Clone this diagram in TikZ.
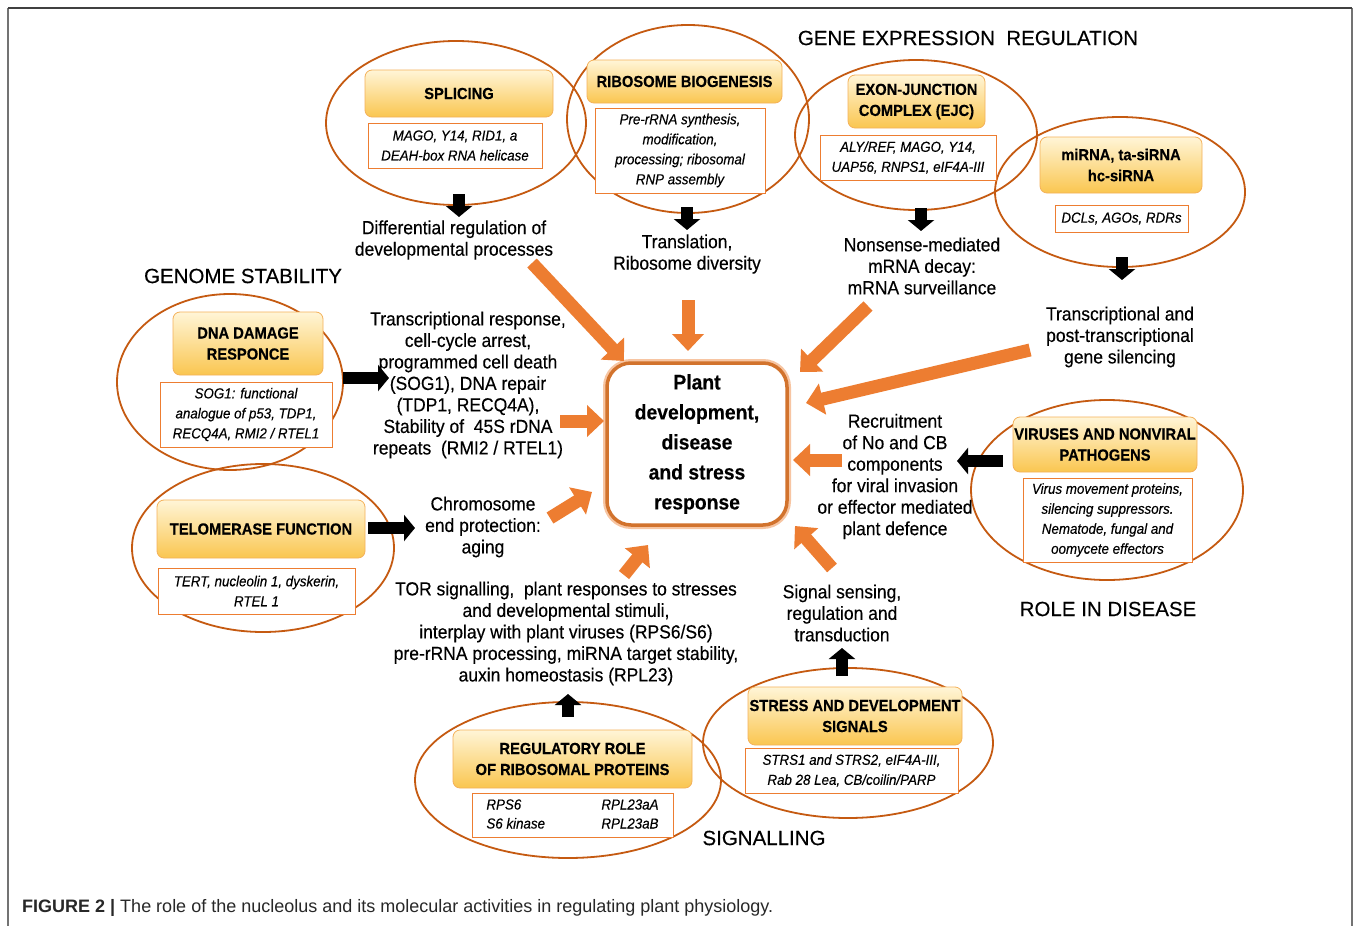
\documentclass[tikz,border=0pt]{standalone}
\usepackage{fontspec}
\setmainfont{Liberation Sans}
\newfontfamily\cond[FakeStretch=0.92,FakeBold=0.3]{Liberation Sans}
\newfontfamily\hdrfont[FakeBold=0.3]{Liberation Sans}
\usetikzlibrary{shapes.geometric,arrows.meta}

\definecolor{ellc}{RGB}{197,90,17}
\definecolor{arrc}{RGB}{237,125,49}
\definecolor{boxedge}{RGB}{237,125,49}
\definecolor{tboxtop}{RGB}{255,245,215}
\definecolor{tboxbot}{RGB}{250,198,80}
\definecolor{tboxedge}{RGB}{244,177,90}
\definecolor{cboxc}{RGB}{210,115,45}
\definecolor{capc}{RGB}{40,40,40}

\begin{document}
\begin{tikzpicture}[x=1pt,y=-1pt,
 ell/.style={ellipse, draw=ellc, line width=1.8pt, inner sep=0pt},
 tbox/.style={rounded corners=7pt, draw=tboxedge, line width=0.8pt, top color=tboxtop, bottom color=tboxbot, inner sep=0pt, align=center, font=\cond\bfseries\fontsize{16}{21}\selectfont},
 dbox/.style={draw=boxedge, line width=0.8pt, fill=white, inner sep=0pt, align=center, font=\cond\itshape\fontsize{14.5}{20}\selectfont},
 txt/.style={align=center, inner sep=0pt, font=\cond\fontsize{19}{21.5}\selectfont},
 hdr/.style={inner sep=0pt, font=\hdrfont\fontsize{20.5}{24}\selectfont},
 barrow/.style={line width=12pt, -{Triangle[length=11pt,width=26pt]}, black},
 oarrow/.style={line width=13pt, -{Triangle[length=17pt,width=31pt]}, arrc},
]
\useasboundingbox (0,0) rectangle (1358,926);
\fill[white] (0,0) rectangle (1358,926);

% frame
\draw[line width=2pt, gray!90!black] (8,926) -- (8,8);
\draw[line width=2pt, gray!90!black] (1352,926) -- (1352,8);
\draw[line width=2pt, black!75] (8,8) -- (1352,8);

% ellipses
\node[ell, minimum width=260pt, minimum height=164pt] (eS) at (456,123) {};
\node[ell, minimum width=242pt, minimum height=188pt] (eR) at (688,119) {};
\node[ell, minimum width=242pt, minimum height=150pt] (eE) at (916,135) {};
\node[ell, minimum width=250pt, minimum height=150pt] (eM) at (1120,192) {};
\node[ell, minimum width=226pt, minimum height=176pt] (eD) at (230,382) {};
\node[ell, minimum width=262pt, minimum height=168pt] (eT) at (263,548) {};
\node[ell, minimum width=272pt, minimum height=180pt] (eV) at (1107,490) {};
\node[ell, minimum width=306pt, minimum height=156pt] (eG) at (568,780) {};
\node[ell, minimum width=290pt, minimum height=150pt] (eX) at (848,743) {};

% title boxes
\node[tbox, minimum width=188pt, minimum height=47pt] (tS) at (459,93.5) {SPLICING};
\node[tbox, minimum width=195pt, minimum height=43pt] (tR) at (684.5,81.5) {RIBOSOME BIOGENESIS};
\node[tbox, minimum width=137pt, minimum height=53pt] (tE) at (916.5,101.5) {EXON-JUNCTION\\COMPLEX (EJC)};
\node[tbox, minimum width=162pt, minimum height=56pt] (tM) at (1121,165) {miRNA, ta-siRNA\\hc-siRNA};
\node[tbox, minimum width=150pt, minimum height=63pt] (tD) at (248,343.5) {DNA DAMAGE\\RESPONCE};
\node[tbox, minimum width=208pt, minimum height=58pt] (tT) at (261,529) {TELOMERASE FUNCTION};
\node[tbox, minimum width=184pt, minimum height=55pt] (tV) at (1105,444.5) {VIRUSES AND NONVIRAL\\PATHOGENS};
\node[tbox, minimum width=239pt, minimum height=58pt] (tG) at (572.5,759) {REGULATORY ROLE\\OF RIBOSOMAL PROTEINS};
\node[tbox, minimum width=214pt, minimum height=58pt] (tX) at (855,716) {STRESS AND DEVELOPMENT\\SIGNALS};

% detail boxes
\node[dbox, minimum width=174pt, minimum height=45pt] (dS) at (455,145.5) {MAGO, Y14, RID1, a\\DEAH-box RNA helicase};
\node[dbox, minimum width=170pt, minimum height=85pt] (dR) at (680,150.5) {Pre-rRNA synthesis,\\modification,\\processing; ribosomal\\RNP assembly};
\node[dbox, minimum width=176pt, minimum height=45pt] (dE) at (908,157.5) {ALY/REF, MAGO, Y14,\\UAP56, RNPS1, eIF4A-III};
\node[dbox, minimum width=133pt, minimum height=27pt] (dM) at (1121.5,218.5) {DCLs, AGOs, RDRs};
\node[dbox, minimum width=172pt, minimum height=65pt] (dD) at (246,414.5) {SOG1: functional\\analogue of p53, TDP1,\\RECQ4A, RMI2 / RTEL1};
\node[dbox, minimum width=197pt, minimum height=46pt] (dT) at (256.5,591) {TERT, nucleolin 1, dyskerin,\\RTEL 1};
\node[dbox, minimum width=169pt, minimum height=84pt] (dV) at (1107.5,520) {Virus movement proteins,\\silencing suppressors.\\Nematode, fungal and\\oomycete effectors};
\node[dbox, minimum width=201pt, minimum height=44pt] (dG) at (572.5,815) {\begin{tabular}{@{}p{115pt}@{}l@{}}RPS6 & RPL23aA\\[-1pt] S6 kinase & RPL23aB\end{tabular}};
\node[dbox, minimum width=213pt, minimum height=45pt] (dX) at (851.5,770.5) {STRS1 and STRS2, eIF4A-III,\\Rab 28 Lea, CB/coilin/PARP};

% centre box
\node[draw=cboxc, line width=3.5pt, rounded corners=24pt, fill=white,
      preaction={draw=arrc!45, line width=8pt, rounded corners=24pt},
      minimum width=180pt, minimum height=162pt, inner sep=0pt, align=center,
      font=\cond\bfseries\fontsize{21}{30}\selectfont] (C) at (697,444)
  {Plant\\development,\\disease\\and stress\\response};

% outcome texts
\node[txt] (oS) at (454,240) {Differential regulation of\\developmental processes};
\node[txt] (oR) at (687,254) {Translation,\\Ribosome diversity};
\node[txt] (oE) at (922,266) {Nonsense-mediated\\mRNA decay:\\mRNA surveillance};
\node[txt] (oM) at (1120,337) {Transcriptional and\\post-transcriptional\\gene silencing};
\node[txt] (oD) at (468,385) {Transcriptional response,\\cell-cycle arrest,\\programmed cell death\\(SOG1), DNA repair\\(TDP1, RECQ4A),\\Stability of~~45S rDNA\\repeats~~(RMI2 / RTEL1)};
\node[txt] (oT) at (483,527) {Chromosome\\end protection:\\aging};
\node[txt] (oV) at (895,476.5) {Recruitment\\of No and CB\\components\\for viral invasion\\or effector mediated\\plant defence};
\node[txt] (oG) at (566,633.5) {TOR signalling,~~plant responses to stresses\\and developmental stimuli,\\interplay with plant viruses (RPS6/S6)\\pre-rRNA processing, miRNA target stability,\\auxin homeostasis (RPL23)};
\node[txt] (oX) at (842,613) {Signal sensing,\\regulation and\\transduction};

% headers
\node[hdr] (hG) at (968,38) {GENE EXPRESSION~~REGULATION};
\node[hdr] (hS) at (243,276) {GENOME STABILITY};
\node[hdr] (hD) at (1108,609) {ROLE IN DISEASE};
\node[hdr] (hL) at (764,838) {SIGNALLING};

% black arrows
\coordinate (bS1) at (459,194); \coordinate (bS2) at (459,217);
\coordinate (bR1) at (687,207); \coordinate (bR2) at (687,230);
\coordinate (bE1) at (921,208); \coordinate (bE2) at (921,231);
\coordinate (bM1) at (1122,257); \coordinate (bM2) at (1122,280);
\coordinate (bD1) at (343,378); \coordinate (bD2) at (389,378);
\coordinate (bT1) at (368,528); \coordinate (bT2) at (415,528);
\coordinate (bV1) at (1003,461); \coordinate (bV2) at (957,461);
\coordinate (bG1) at (568,717); \coordinate (bG2) at (568,694);
\coordinate (bX1) at (842,676); \coordinate (bX2) at (842,648);
\foreach \n in {S,R,E,M,D,T,V,G,X} \draw[barrow] (b\n1) -- (b\n2);

% orange arrows
\coordinate (o1a) at (532,263); \coordinate (o1b) at (624,361);
\coordinate (o2a) at (688,300); \coordinate (o2b) at (688,351);
\coordinate (o3a) at (868,306); \coordinate (o3b) at (800,372);
\coordinate (o4a) at (1030,350); \coordinate (o4b) at (806,403);
\coordinate (o5a) at (560,421); \coordinate (o5b) at (604,421);
\coordinate (o6a) at (842,460); \coordinate (o6b) at (793,460);
\coordinate (o7a) at (832,568); \coordinate (o7b) at (795,526);
\coordinate (o8a) at (550,518); \coordinate (o8b) at (592,492);
\coordinate (o9a) at (624,575); \coordinate (o9b) at (648,545);
\foreach \n in {1,...,9} \draw[oarrow] (o\n a) -- (o\n b);

% caption
\node[anchor=west, inner sep=0pt, text=capc, font=\fontsize{18}{21}\selectfont] (cap) at (22,908)
  {\textbf{FIGURE 2 |} The role of the nucleolus and its molecular activities in regulating plant physiology.};
\end{tikzpicture}
\end{document}
